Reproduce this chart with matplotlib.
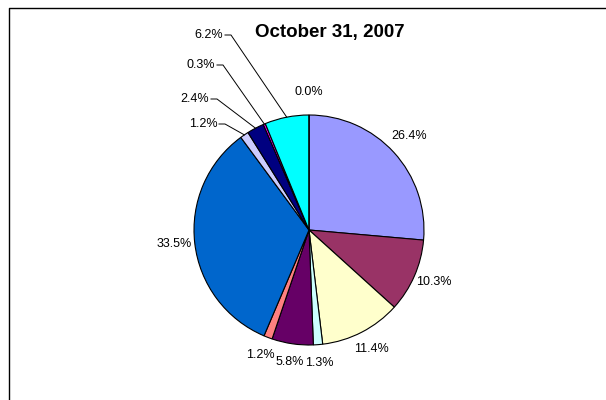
import numpy as np
import matplotlib
matplotlib.use("Agg")
import matplotlib.pyplot as plt
from matplotlib.lines import Line2D

plt.rcParams['font.family'] = ['Liberation Sans', 'DejaVu Sans']

title = "October 31, 2007"
values = [26.4, 10.3, 11.4, 1.3, 5.8, 1.2, 33.5, 1.2, 2.4, 0.3, 6.2, 0.0]
labels = ["26.4%", "10.3%", "11.4%", "1.3%", "5.8%", "1.2%", "33.5%",
          "1.2%", "2.4%", "0.3%", "6.2%", "0.0%"]
colors = ["#9999FF", "#993366", "#FFFFCC", "#CCFFFF", "#660066", "#FF8080",
          "#0066CC", "#CCCCFF", "#000080", "#FF00FF", "#00FFFF", "#FFFF00"]

# labels pulled out with a leader line: index -> label position (pixels)
leader_pos = {7: (203, 124), 8: (195, 99), 9: (201, 65), 10: (209, 35)}

W, H = 606, 400
fig = plt.figure(figsize=(W / 100, H / 100), dpi=100)
ax = fig.add_axes([0, 0, 1, 1])

cx, cy, r = 309, H - 230, 115
wedges, _ = ax.pie(values, colors=colors, startangle=90, counterclock=False,
                   center=(cx, cy), radius=r, frame=True,
                   wedgeprops=dict(edgecolor='black', linewidth=0.8))
ax.set_xlim(0, W)
ax.set_ylim(0, H)
ax.axis('off')

for i, w in enumerate(wedges):
    ang = np.deg2rad((w.theta1 + w.theta2) / 2.0)
    if i in leader_pos:
        lx, ly = leader_pos[i]
        ly = H - ly
        ax.text(lx, ly, labels[i], ha='center', va='center', fontsize=9)
        ex, ey = cx + r * np.cos(ang), cy + r * np.sin(ang)
        x0 = lx + 16
        ax.plot([x0, x0 + 6, ex], [ly, ly, ey], color='black', lw=0.7)
    else:
        d = r * 1.18
        ax.text(cx + d * np.cos(ang), cy + d * np.sin(ang) + 2, labels[i],
                ha='center', va='center', fontsize=9)

ax.text(330, H - 32, title, ha='center', va='center', fontsize=13.5,
        fontweight='bold')

# chart area frame: only left and top edges fall inside the image
bx, by = 8.5 / W, (H - 7.5) / H
fig.add_artist(Line2D([bx, bx, 1.1], [-0.1, by, by], transform=fig.transFigure,
                      color='black', linewidth=1.0))

fig.savefig("out.png", dpi=100)
